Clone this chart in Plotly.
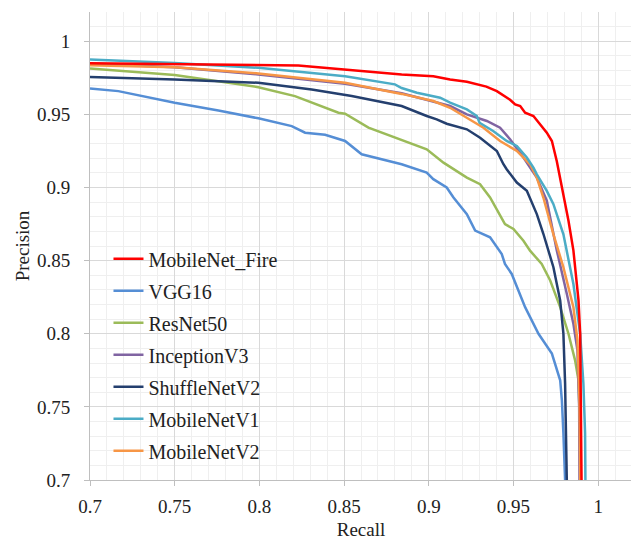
import plotly.graph_objects as go

names = ["MobileNet_Fire", "VGG16", "ResNet50", "InceptionV3", "ShuffleNetV2", "MobileNetV1", "MobileNetV2"]
colors = ["#FF0000", "#558ED5", "#9BBB59", "#8064A2", "#243F6E", "#4BACC6", "#F79646"]

fire_x = [0.700, 0.750, 0.800, 0.823, 0.850, 0.884, 0.9027, 0.9126, 0.9225, 0.9264, 0.934, 0.9402, 0.948, 0.951, 0.954, 0.9569, 0.9618, 0.9697, 0.9727, 0.9756, 0.9795, 0.9825, 0.9854, 0.9884, 0.9894, 0.9900, 0.9902]
fire_y = [0.9850, 0.9845, 0.9841, 0.9834, 0.9807, 0.9773, 0.9761, 0.9739, 0.9723, 0.9712, 0.969, 0.9659, 0.960, 0.9568, 0.9557, 0.9511, 0.9489, 0.9375, 0.9318, 0.918, 0.8955, 0.8773, 0.857, 0.823, 0.80, 0.75, 0.70]

vgg_x = [0.700, 0.7167, 0.75, 0.7758, 0.7994, 0.8191, 0.827, 0.8388, 0.8506, 0.8604, 0.884, 0.8929, 0.8988, 0.9027, 0.9106, 0.9146, 0.9225, 0.9274, 0.9362, 0.9431, 0.945, 0.949, 0.9569, 0.9648, 0.9727, 0.9776, 0.9786, 0.9795, 0.9805]
vgg_y = [0.9677, 0.9659, 0.958, 0.9527, 0.9473, 0.942, 0.9375, 0.936, 0.9318, 0.9227, 0.9159, 0.9125, 0.9102, 0.9057, 0.90, 0.8932, 0.8818, 0.8705, 0.8659, 0.8545, 0.8477, 0.8409, 0.8182, 0.80, 0.7864, 0.7682, 0.7545, 0.7318, 0.70]

res_x = [0.700, 0.750, 0.7994, 0.821, 0.8467, 0.8506, 0.8644, 0.884, 0.8988, 0.9087, 0.9225, 0.9303, 0.9362, 0.945, 0.95, 0.9559, 0.9598, 0.9667, 0.9717, 0.9776, 0.9825, 0.9864, 0.9884, 0.9892, 0.9895]
res_y = [0.9814, 0.9770, 0.9686, 0.9625, 0.9511, 0.9504, 0.9409, 0.9323, 0.9261, 0.917, 0.9068, 0.9023, 0.8932, 0.875, 0.8716, 0.8636, 0.8568, 0.8477, 0.8364, 0.8182, 0.80, 0.7818, 0.7682, 0.74, 0.70]

inc_x = [0.700, 0.750, 0.7994, 0.8506, 0.884, 0.9126, 0.9225, 0.9343, 0.9421, 0.948, 0.9559, 0.9638, 0.9697, 0.9756, 0.9815, 0.9854, 0.9878, 0.9888, 0.989]
inc_y = [0.9848, 0.9823, 0.9773, 0.971, 0.9645, 0.9557, 0.95, 0.9455, 0.9409, 0.933, 0.9205, 0.9068, 0.891, 0.857, 0.8273, 0.8068, 0.7886, 0.75, 0.70]

shuf_x = [0.700, 0.750, 0.7994, 0.8309, 0.8545, 0.884, 0.8988, 0.9047, 0.9106, 0.9225, 0.9303, 0.9402, 0.9441, 0.946, 0.952, 0.9579, 0.9638, 0.9677, 0.9736, 0.9776, 0.9795, 0.9805, 0.9815]
shuf_y = [0.9755, 0.9739, 0.9716, 0.967, 0.9625, 0.9557, 0.9489, 0.9466, 0.9436, 0.9398, 0.934, 0.925, 0.9159, 0.9125, 0.9034, 0.8977, 0.8818, 0.8682, 0.8455, 0.8227, 0.80, 0.766, 0.70]

v1_x = [0.700, 0.750, 0.7994, 0.8506, 0.880, 0.884, 0.893, 0.9067, 0.9126, 0.9225, 0.9284, 0.930, 0.938, 0.946, 0.952, 0.9579, 0.9618, 0.9638, 0.9697, 0.9736, 0.9795, 0.9854, 0.9894, 0.9913, 0.9923, 0.9925]
v1_y = [0.9875, 0.9852, 0.9818, 0.9761, 0.9705, 0.968, 0.9648, 0.9614, 0.958, 0.9534, 0.9489, 0.9443, 0.9386, 0.9318, 0.9284, 0.9205, 0.9136, 0.909, 0.8977, 0.8886, 0.868, 0.834, 0.80, 0.766, 0.732, 0.70]

v2_x = [0.700, 0.750, 0.7994, 0.8506, 0.884, 0.9027, 0.9126, 0.9225, 0.9323, 0.9421, 0.952, 0.9598, 0.9638, 0.9677, 0.9736, 0.9795, 0.9854, 0.9878, 0.989, 0.9894]
v2_y = [0.9836, 0.9823, 0.978, 0.9716, 0.964, 0.9591, 0.9545, 0.9477, 0.9409, 0.9318, 0.925, 0.9159, 0.9068, 0.893, 0.868, 0.8455, 0.8182, 0.7955, 0.7545, 0.70]

series_x = [fire_x, vgg_x, res_x, inc_x, shuf_x, v1_x, v2_x]
series_y = [fire_y, vgg_y, res_y, inc_y, shuf_y, v1_y, v2_y]

FONT = "Liberation Serif"

fig = go.Figure()
draw_order = [1, 2, 4, 3, 6, 5, 0]
for i in draw_order:
    fig.add_trace(go.Scatter(
        x=series_x[i], y=series_y[i], mode="lines", name=names[i],
        legendgroup=names[i], legendrank=i + 1,
        line=dict(color=colors[i], width=2.5),
    ))

axis_common = dict(
    showgrid=True, gridcolor="#d9d9d9", gridwidth=1,
    minor=dict(showgrid=True, gridcolor="#efefef", gridwidth=1, dtick=0.01),
    showline=True, linecolor="#bfbfbf", linewidth=1,
    ticks="outside", ticklen=5, tickcolor="#bfbfbf",
    zeroline=False, tickfont=dict(family=FONT, size=19, color="#222222"),
    dtick=0.05, tick0=0.7, automargin=False,
)

fig.update_xaxes(range=[0.7, 1.02], title=dict(text="Recall", font=dict(family=FONT, size=19, color="#222222"), standoff=8),
                 ticklabelstandoff=4, **axis_common)
fig.update_yaxes(range=[0.7, 1.02], title=dict(text="Precision", font=dict(family=FONT, size=19, color="#222222"), standoff=2),
                 ticklabelstandoff=10, **axis_common)

# page body has an 8px margin, so the figure is offset by 8px in the window
fig.update_layout(
    width=631, height=532,
    margin=dict(l=82, r=7, t=4, b=60),
    paper_bgcolor="white", plot_bgcolor="white",
    font=dict(family=FONT, size=19, color="#222222"),
    showlegend=True,
    legend=dict(
        x=0.0341, y=0.5145, xanchor="left", yanchor="top",
        bgcolor="rgba(0,0,0,0)", borderwidth=0,
        font=dict(family=FONT, size=20, color="#222222"),
        traceorder="grouped", tracegroupgap=3,
    ),
)

fig.write_html("out.html")
